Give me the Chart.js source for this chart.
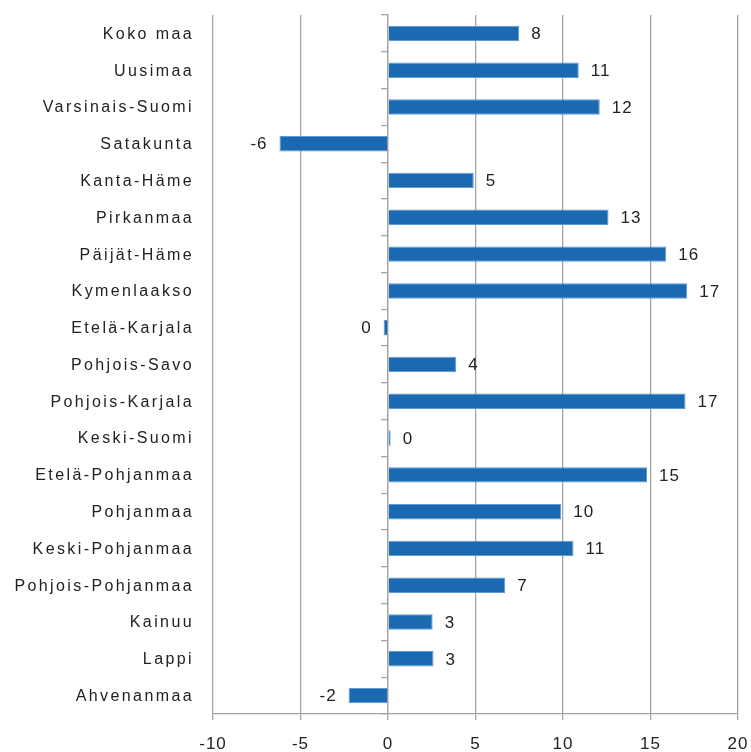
<!DOCTYPE html>
<html>
<head>
<meta charset="utf-8">
<script src="https://cdn.jsdelivr.net/npm/chart.js@4/dist/chart.umd.min.js"></script>
<style>
    html, body { margin: 0; padding: 0; background: #fff; }
    #wrap { width: 751px; height: 752px; }
</style>
</head>
<body>
<div id="wrap"><canvas id="chartMaakunnat"></canvas></div>
<script>
// Maakunnat ja muutos (%)
const maakunnat = [
    'Koko maa', 'Uusimaa', 'Varsinais-Suomi', 'Satakunta', 'Kanta-Häme',
    'Pirkanmaa', 'Päijät-Häme', 'Kymenlaakso', 'Etelä-Karjala', 'Pohjois-Savo',
    'Pohjois-Karjala', 'Keski-Suomi', 'Etelä-Pohjanmaa', 'Pohjanmaa',
    'Keski-Pohjanmaa', 'Pohjois-Pohjanmaa', 'Kainuu', 'Lappi', 'Ahvenanmaa'
];
const muutos = [
    7.5, 10.9, 12.1, -6.2, 4.9,
    12.6, 15.9, 17.1, -0.25, 3.9,
    17.0, 0.15, 14.8, 9.9,
    10.6, 6.7, 2.55, 2.6, -2.25
];
const xTicks = [-10, -5, 0, 5, 10, 15, 20];

const vari = '#1a69b1';
const harmaa = '#a3a3a3';
const fontti = 'Liberation Sans, Arial, sans-serif';

// Harvempi kirjainväli kuten alkuperäisessä
const kirjainvali = {
    id: 'kirjainvali',
    beforeDraw(chart) {
        chart.ctx.letterSpacing = '1px';
    }
};

// Maakuntien nimet vasempaan reunaan
const nimet = {
    id: 'nimet',
    afterDraw(chart) {
        const ctx = chart.ctx;
        const y = chart.scales.y;
        ctx.save();
        ctx.letterSpacing = '2.4px';
        ctx.font = '16px ' + fontti;
        ctx.fillStyle = '#222';
        ctx.textAlign = 'right';
        ctx.textBaseline = 'middle';
        maakunnat.forEach((nimi, i) => {
            ctx.fillText(nimi, y.right - 19, y.getPixelForValue(i) + 1);
        });
        ctx.restore();
    }
};

// Arvot palkkien päähän
const arvoLabelit = {
    id: 'arvoLabelit',
    afterDatasetsDraw(chart) {
        const ctx = chart.ctx;
        const meta = chart.getDatasetMeta(0);
        ctx.save();
        ctx.letterSpacing = '1px';
        ctx.font = '17px ' + fontti;
        ctx.fillStyle = '#222';
        ctx.textBaseline = 'middle';
        meta.data.forEach((bar, i) => {
            const v = muutos[i];
            const teksti = String(Math.abs(Math.round(v)) === 0 ? 0 : Math.round(v));
            if (v < 0) {
                ctx.textAlign = 'right';
                ctx.fillText(teksti, bar.x - 12, bar.y + 1);
            } else {
                ctx.textAlign = 'left';
                ctx.fillText(teksti, bar.x + 12, bar.y + 1);
            }
        });
        ctx.restore();
    }
};

const ctxMaakunnat = document.getElementById('chartMaakunnat').getContext('2d');
new Chart(ctxMaakunnat, {
    type: 'bar',
    data: {
        labels: maakunnat,
        datasets: [{
            data: muutos,
            backgroundColor: vari,
            borderColor: '#5d9ad3',
            borderWidth: 1,
            borderSkipped: 'start',
            barPercentage: 0.42,
            categoryPercentage: 1
        }]
    },
    options: {
        indexAxis: 'y',
        responsive: true,
        maintainAspectRatio: false,
        animation: false,
        layout: {
            padding: { top: 15, right: 13, bottom: 0, left: 0 }
        },
        plugins: {
            legend: { display: false },
            tooltip: { enabled: false }
        },
        scales: {
            x: {
                min: -10,
                max: 20,
                afterBuildTicks: (scale) => {
                    scale.ticks = xTicks.map(v => ({ value: v }));
                },
                afterFit: (scale) => {
                    scale.height = 38;
                    scale.paddingLeft = 0;
                    scale.paddingRight = 0;
                },
                grid: {
                    color: harmaa,
                    lineWidth: 1.3,
                    tickLength: 6
                },
                border: { color: harmaa, width: 1.3 },
                ticks: {
                    color: '#222',
                    font: { family: fontti, size: 17 },
                    padding: 14
                }
            },
            y: {
                grid: { display: false },
                border: { display: false },
                afterFit: (scale) => { scale.width = 213; },
                ticks: { display: false }
            },
            nolla: {
                type: 'category',
                axis: 'y',
                labels: maakunnat,
                position: { x: 0 },
                offset: true,
                grid: {
                    offset: true,
                    drawOnChartArea: false,
                    color: harmaa,
                    tickLength: 6,
                    lineWidth: 1.3
                },
                border: { color: harmaa, width: 1.3 },
                ticks: { display: false }
            }
        }
    },
    plugins: [kirjainvali, nimet, arvoLabelit]
});
</script>
</body>
</html>
